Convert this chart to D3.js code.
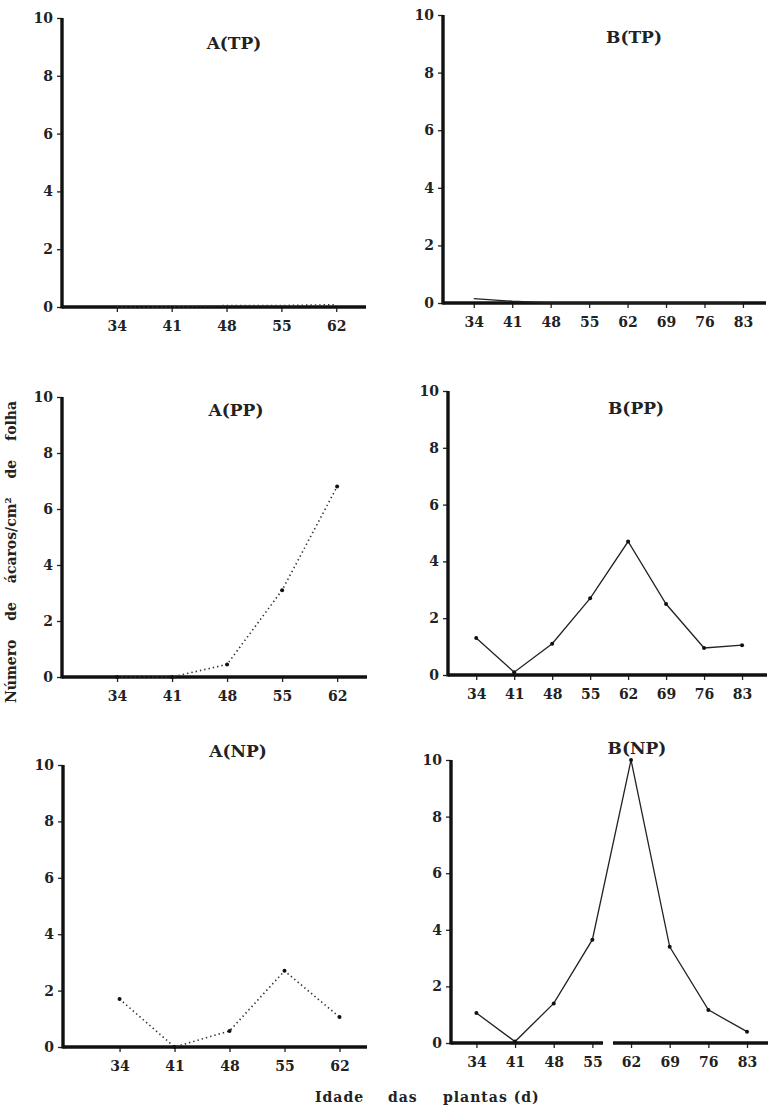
<!DOCTYPE html>
<html>
<head>
<meta charset="utf-8">
<script src="https://cdn.jsdelivr.net/npm/d3@7"></script>
<style>
  body { margin: 0; background: #fff; }
  svg text { font-family: "DejaVu Serif", "Liberation Serif", serif; font-weight: bold; fill: #222; }
</style>
</head>
<body>
<svg id="chart" width="770" height="1109"></svg>
<script>
// idade das plantas (dias)
const daysA = [34, 41, 48, 55, 62];
const daysB = [34, 41, 48, 55, 62, 69, 76, 83];
const yTicks = [0, 2, 4, 6, 8, 10];

// numero de acaros / cm2 de folha
const aTP = [0, 0, 0.05, 0.05, 0.08];
const bTP = [0.15, 0.06, 0, 0, 0, 0, 0, 0];
const aPP = [0, 0, 0.45, 3.1, 6.8];
const bPP = [1.3, 0.1, 1.1, 2.7, 4.7, 2.5, 0.95, 1.05];
const aNP = [1.7, 0, 0.57, 2.7, 1.06];
const bNP = [1.06, 0.05, 1.4, 3.65, 10, 3.4, 1.17, 0.4];

const titles = ["A(TP)", "B(TP)", "A(PP)", "B(PP)", "A(NP)", "B(NP)"];
const xWords = ["Idade", "das", "plantas (d)"];

// layout of each panel: axis box, title spot, line style
const panels = [
  { t: 0, days: daysA, vals: aTP, dom: [27, 65.8], box: [62, 366, 18, 307], tp: [234, 49], dotted: true, dots: false },
  { t: 1, days: daysB, vals: bTP, dom: [28.4, 87.2], box: [443, 766, 15, 303], tp: [634, 43], dotted: false, dots: false },
  { t: 2, days: daysA, vals: aPP, dom: [27, 65.8], box: [62, 367, 397, 677], tp: [236, 416], dotted: true, dots: true },
  { t: 3, days: daysB, vals: bPP, dom: [28.8, 87.6], box: [448, 767, 391, 675], tp: [636, 414], dotted: false, dots: true },
  { t: 4, days: daysA, vals: aNP, dom: [26.8, 65.5], box: [63, 367, 765, 1047], tp: [238, 757], dotted: true, dots: true },
  { t: 5, days: daysB, vals: bNP, dom: [29.4, 86.8], box: [451, 768, 760, 1043], tp: [637, 754], dotted: false, dots: true, gap: [603, 613] }
];

const svg = d3.select("#chart");

panels.forEach(p => {
  const [x0, x1, yT, y0] = p.box;
  const x = d3.scaleLinear().domain(p.dom).range([x0, x1]);
  const y = d3.scaleLinear().domain([0, 10]).range([y0, yT]);
  const g = svg.append("g");

  // y axis ticks + labels
  const ya = g.append("g").attr("transform", `translate(${x0},0)`)
    .call(d3.axisLeft(y).tickValues(yTicks).tickSize(5).tickPadding(4));
  ya.select(".domain").remove();
  ya.selectAll("line").attr("stroke", "#222").attr("stroke-width", 1.3);
  ya.selectAll("text").attr("font-size", 14).attr("fill", "#222");

  // x axis ticks + labels
  const xa = g.append("g").attr("transform", `translate(0,${y0})`)
    .call(d3.axisBottom(x).tickValues(p.days).tickFormat(d3.format("d")).tickSize(5).tickPadding(9));
  xa.select(".domain").remove();
  xa.selectAll("line").attr("stroke", "#222").attr("stroke-width", 1.3);
  xa.selectAll("text").attr("font-size", 14).attr("fill", "#222");

  // heavy axis lines
  g.append("line").attr("x1", x0).attr("x2", x0).attr("y1", yT).attr("y2", y0 + 1.5)
    .attr("stroke", "#111").attr("stroke-width", 3.4);
  const segs = p.gap ? [[x0, p.gap[0]], [p.gap[1], x1]] : [[x0, x1]];
  segs.forEach(s => {
    g.append("line").attr("x1", s[0]).attr("x2", s[1]).attr("y1", y0).attr("y2", y0)
      .attr("stroke", "#111").attr("stroke-width", 3.4);
  });

  // series line
  const pts = p.days.map((d, i) => [d, p.vals[i]]);
  g.append("path").datum(pts)
    .attr("d", d3.line().x(d => x(d[0])).y(d => y(d[1])))
    .attr("fill", "none")
    .attr("stroke", p.dotted ? "#333" : "#222")
    .attr("stroke-width", p.dotted ? 1.6 : 1.3)
    .attr("stroke-dasharray", p.dotted ? "1.4 3" : null);

  if (p.dots) {
    g.selectAll("circle").data(pts).enter().append("circle")
      .attr("cx", d => x(d[0])).attr("cy", d => y(d[1])).attr("r", 2)
      .attr("fill", "#111");
  }

  g.append("text").attr("x", p.tp[0]).attr("y", p.tp[1])
    .attr("text-anchor", "middle").attr("font-size", 17)
    .text(titles[p.t]);
});

// axis titles
svg.append("text")
  .attr("transform", "translate(16,552) rotate(-90)")
  .attr("text-anchor", "middle").attr("font-size", 14)
  .attr("word-spacing", 14)
  .text("Número de ácaros/cm² de folha");

const xWordX = [315, 388, 443];
svg.append("g").selectAll("text").data(xWords).enter().append("text")
  .attr("x", (d, i) => xWordX[i]).attr("y", 1102)
  .attr("font-size", 14).attr("letter-spacing", 1)
  .text(d => d);
</script>
</body>
</html>
